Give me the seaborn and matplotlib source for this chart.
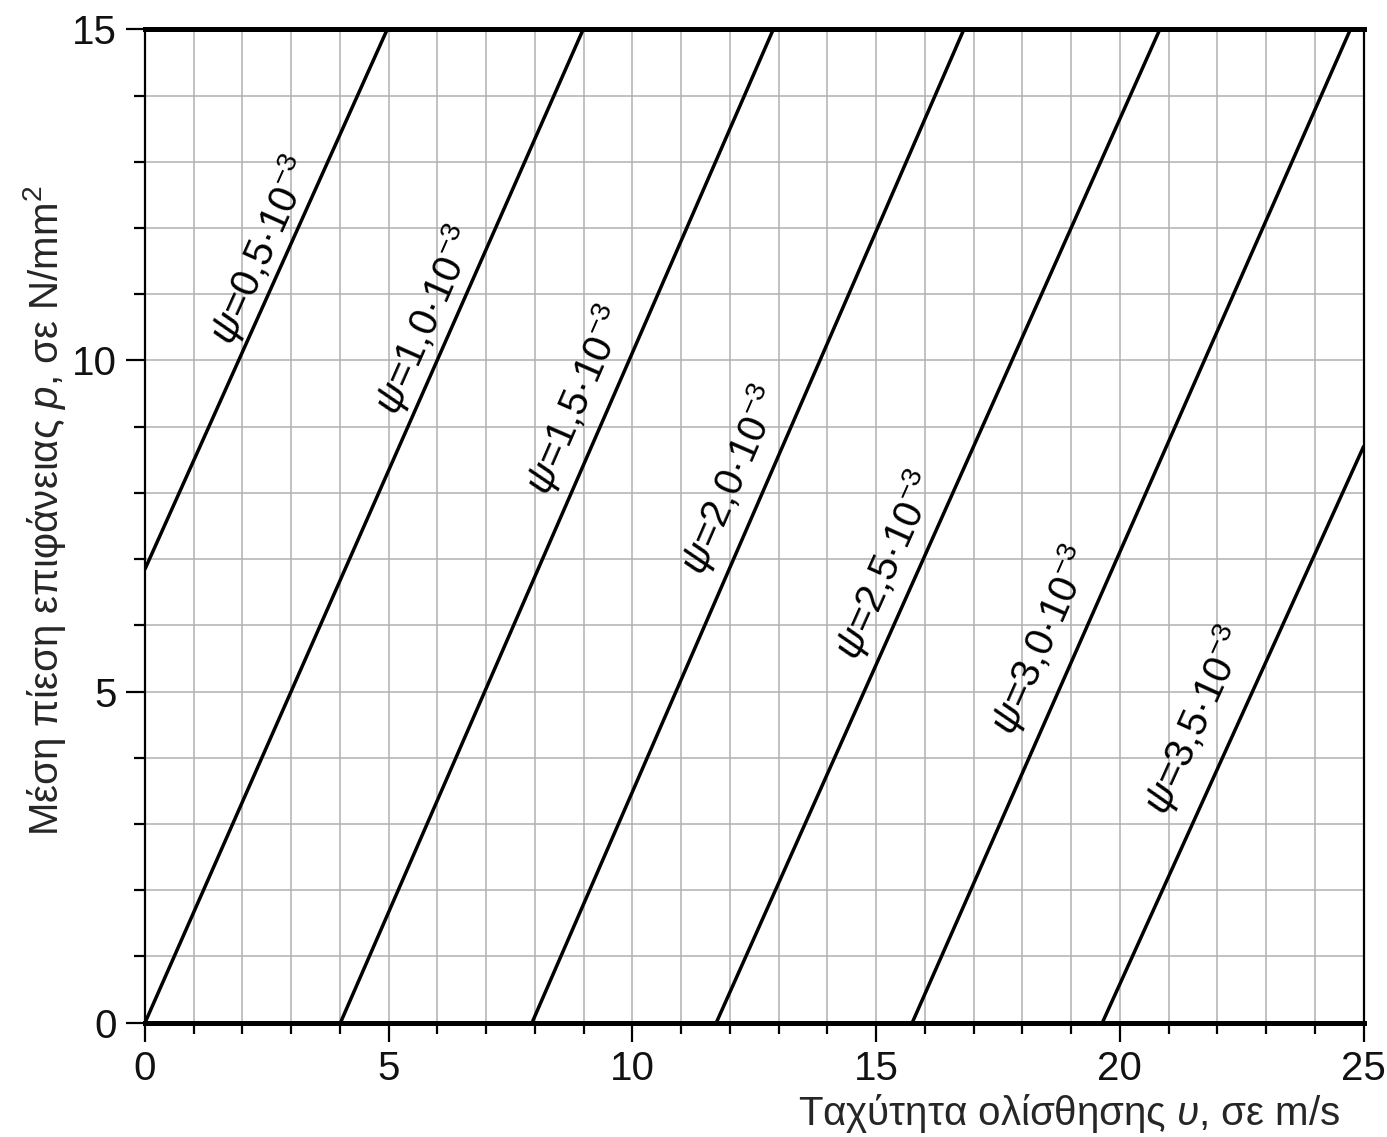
import numpy as np
import pandas as pd
import matplotlib
matplotlib.use("Agg")
import matplotlib.pyplot as plt
import seaborn as sns

# ---- data ----
psi_labels = ["0,5", "1,0", "1,5", "2,0", "2,5", "3,0", "3,5"]
line_x_start = [0.00, 0.00, 4.01, 7.94, 11.72, 15.74, 19.64]
line_y_start = [6.85, 0.00, 0.00, 0.00, 0.00, 0.00, 0.00]
line_x_end = [4.97, 8.99, 12.89, 16.80, 20.82, 24.73, 25.00]
line_y_end = [15.0, 15.0, 15.0, 15.0, 15.0, 15.0, 8.70]
label_x = [2.37, 5.75, 8.83, 12.01, 15.19, 18.37, 21.55]
label_y = [11.67, 10.61, 9.40, 8.20, 6.91, 5.78, 4.57]

x_major = [0, 5, 10, 15, 20, 25]
y_major = [0, 5, 10, 15]

rows = []
for i, lab in enumerate(psi_labels):
    rows.append({"psi": lab, "u": line_x_start[i], "p": line_y_start[i]})
    rows.append({"psi": lab, "u": line_x_end[i], "p": line_y_end[i]})
df = pd.DataFrame(rows)

sns.set_theme(style="white")
plt.rcParams["font.family"] = ["Liberation Sans", "DejaVu Sans"]
plt.rcParams["mathtext.fontset"] = "custom"
plt.rcParams["mathtext.rm"] = "Liberation Sans"
plt.rcParams["mathtext.it"] = "Liberation Sans:italic"
plt.rcParams["mathtext.bf"] = "Liberation Sans:bold"

fig = plt.figure(figsize=(13.87, 11.37), dpi=100)
ax = fig.add_axes([145 / 1387, 1 - 1022.7 / 1137, 1218.6 / 1387, 993.4 / 1137])

sns.lineplot(data=df, x="u", y="p", units="psi", estimator=None,
             color="black", linewidth=2.5, ax=ax, legend=False)

ax.set_xlim(0, 25)
ax.set_ylim(0, 15)
ax.set_xticks(x_major)
ax.set_yticks(y_major)
ax.set_xticks(np.arange(0, 26, 1), minor=True)
ax.set_yticks(np.arange(0, 16, 1), minor=True)
ax.grid(True, which="both", color="#b0b0b0", linewidth=1.1)
ax.set_axisbelow(True)

ax.tick_params(axis="both", which="major", direction="out", length=14, width=1.6,
               color="black", labelsize=29, pad=6, labelcolor="#111111")
ax.tick_params(axis="both", which="minor", direction="out", length=8, width=1.6,
               color="black")
ax.tick_params(bottom=True, left=True, which="both")

for side in ["top", "bottom"]:
    ax.spines[side].set_linewidth(3.6)
    ax.spines[side].set_color("black")
for side in ["left", "right"]:
    ax.spines[side].set_linewidth(1.6)
    ax.spines[side].set_color("black")
for s in ax.spines.values():
    s.set_visible(True)
    s.set_zorder(5)

ax.set_xlabel(r"Ταχύτητα ολίσθησης $\mathit{υ}$, σε m/s", fontsize=29, ha="right")
ax.xaxis.set_label_coords((1340 - 145) / 1218.6, -0.070)
ax.set_ylabel(r"Μέση πίεση επιφάνειας $\mathit{p}$, σε N/mm$^2$", fontsize=29)
ax.yaxis.set_label_coords(-0.063, 0.515)

# rotated line labels
fig.canvas.draw()
for i, lab in enumerate(psi_labels):
    p0 = ax.transData.transform((line_x_start[i], line_y_start[i]))
    p1 = ax.transData.transform((line_x_end[i], line_y_end[i]))
    ang = np.degrees(np.arctan2(p1[1] - p0[1], p1[0] - p0[0]))
    ax.text(label_x[i], label_y[i], r"$\psi$=" + lab + r"·10$^{-3}$",
            rotation=ang, rotation_mode="anchor", ha="center", va="center",
            fontsize=29, color="black")

fig.savefig("out.png", dpi=100)
